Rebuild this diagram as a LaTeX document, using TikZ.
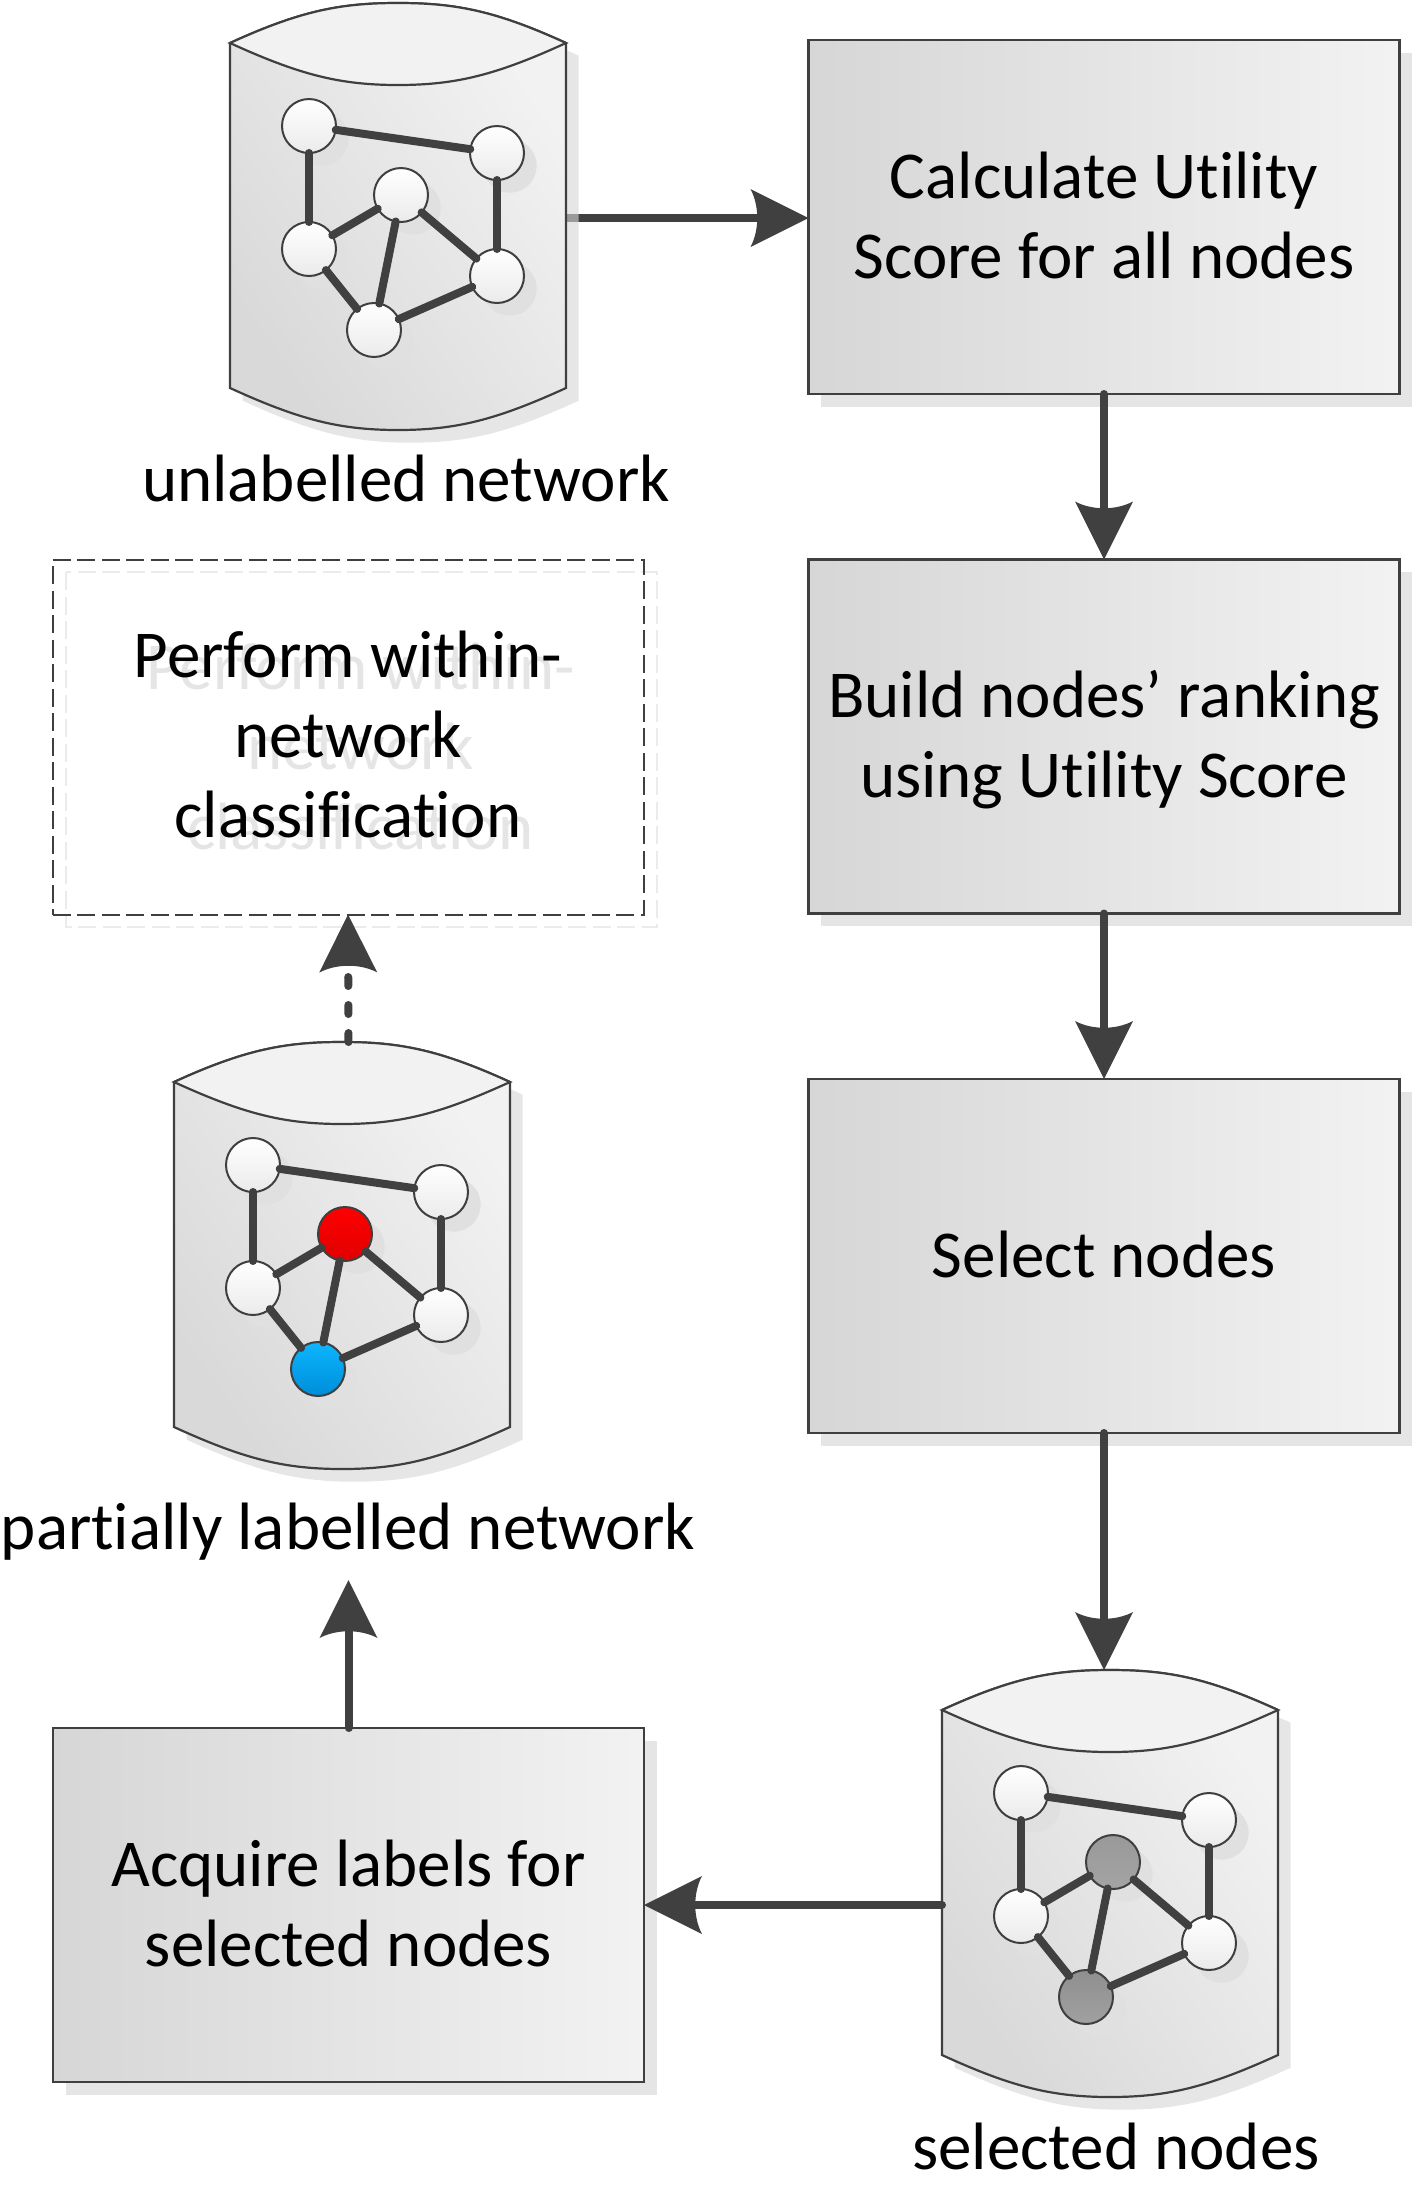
\documentclass[tikz,border=0pt]{standalone}
\usepackage{fontspec}
\setmainfont[Ligatures=NoCommon]{Carlito}
\usetikzlibrary{arrows.meta,calc}
\pgfdeclarelayer{links}
\pgfsetlayers{links,main}
\definecolor{ink}{HTML}{404040}
\definecolor{edgeline}{HTML}{3F3F3F}
\definecolor{castshade}{HTML}{D6D6D6}
% arrow head with swept-back barbs and a curved rear edge
\pgfdeclarearrow{
  name=BarbHead,
  setup code={
    \pgfarrowssettipend{0pt}
    \pgfarrowssetbackend{-58pt}
    \pgfarrowssetvisualbackend{-52pt}
    \pgfarrowssetlineend{-47pt}
    \pgfarrowshullpoint{0pt}{0pt}
    \pgfarrowshullpoint{-58pt}{29pt}
    \pgfarrowshullpoint{-58pt}{-29pt}
  },
  drawing code={
    \pgfpathmoveto{\pgfqpoint{0pt}{0pt}}
    \pgfpathlineto{\pgfqpoint{-58pt}{29pt}}
    \pgfpathcurveto{\pgfqpoint{-49pt}{12pt}}{\pgfqpoint{-49pt}{-12pt}}{\pgfqpoint{-58pt}{-29pt}}
    \pgfpathclose
    \pgfusepathqfill
  }
}
\tikzset{
  x=1pt,y=-1pt,
  every node/.style={inner sep=0pt,outer sep=0pt},
  boxtext/.style={font=\fontsize{67}{80}\selectfont,align=center,text=black},
  caption/.style={font=\fontsize{67}{80}\selectfont,anchor=base,text=black},
  procbox/.style={rectangle,draw=edgeline,line width=2.4pt,minimum width=591pt,minimum height=354pt,
    left color=black!16,right color=black!5},
  dropshade/.style={fill=castshade,opacity=.6,draw=none},
  flow/.style={draw=ink,line width=8pt,line cap=round,-{BarbHead}},
  netlink/.style={draw=ink,line width=8pt,line cap=round},
  netvertex/.style={circle,draw=edgeline,line width=2pt,minimum size=54pt},
  plainvertex/.style={netvertex,top color=white,bottom color=black!8},
  cylbody/.style={draw=edgeline,line width=2.2pt,shading=axis,bottom color=black!15,top color=black!5,shading angle=-55},
  cyltop/.style={draw=edgeline,line width=2.2pt,fill=black!5},
}
% one cylinder holding a six-vertex network; #1 prefix, #2 #3 top-left corner of its extent,
% #4 #5 styles of the two vertices in the middle of the network
\newcommand{\netcylinder}[5]{%
  \begin{scope}[shift={(#2,#3)}]
    \path[dropshade,shift={(12.7,12.7)}] (0,40) .. controls (70,8) and (110,0) .. (168,0)
      .. controls (226,0) and (266,8) .. (336,40) -- (336,385)
      .. controls (266,417) and (226,427) .. (168,427)
      .. controls (110,427) and (70,417) .. (0,385) -- cycle;
    \path[cylbody] (0,40) .. controls (70,8) and (110,0) .. (168,0)
      .. controls (226,0) and (266,8) .. (336,40) -- (336,385)
      .. controls (266,417) and (226,427) .. (168,427)
      .. controls (110,427) and (70,417) .. (0,385) -- cycle;
    \path[cyltop] (0,40) .. controls (70,8) and (110,0) .. (168,0)
      .. controls (226,0) and (266,8) .. (336,40)
      .. controls (266,72) and (226,82) .. (168,82)
      .. controls (110,82) and (70,72) .. (0,40) -- cycle;
    \foreach \sx/\sy in {79/123,267/150,171/192,79/246,267/273,144/327}
      \fill[black!12] (\sx+12.7,\sy+12.7) circle[radius=27pt];
    \node[plainvertex] (#1a) at (79,123) {};
    \node[plainvertex] (#1b) at (267,150) {};
    \node[#4] (#1c) at (171,192) {};
    \node[plainvertex] (#1d) at (79,246) {};
    \node[plainvertex] (#1e) at (267,273) {};
    \node[#5] (#1f) at (144,327) {};
    \draw[netlink] (#1a) -- (#1b);
    \draw[netlink] (#1a) -- (#1d);
    \draw[netlink] (#1b) -- (#1e);
    \draw[netlink] (#1d) -- (#1c);
    \draw[netlink] (#1c) -- (#1e);
    \draw[netlink] (#1c) -- (#1f);
    \draw[netlink] (#1d) -- (#1f);
    \draw[netlink] (#1f) -- (#1e);
  \end{scope}}
\begin{document}
\begin{tikzpicture}
\useasboundingbox (0,0) rectangle (1413,2188);

% process boxes with their cast shade
\foreach \bx/\by in {808.5/40,808.5/559.5,808.5/1079,53/1728}
  \fill[black!10] (\bx+12.7,\by+12.7) rectangle ++(591,354);
\node[procbox] (score) at (1104,217) {};
\node[procbox] (rank) at (1104,736.5) {};
\node[procbox] (select) at (1104,1256) {};
\node[procbox] (acquire) at (348.5,1905) {};
\node[boxtext] (scoretext) at (1104,215.5) {Calculate Utility\\Score for all nodes};
\node[boxtext] (ranktext) at (1104,739.5) {Build nodes’ ranking\\using Utility Score};
\node[boxtext] (selecttext) at (1104,1254.5) {Select nodes};
\node[boxtext] (acquiretext) at (348.5,1903) {Acquire labels for\\selected nodes};

% optional final step, outlined only
\draw[black!8,line width=2pt,dash pattern=on 18pt off 6.5pt] (65.7,572.2) rectangle ++(591,355);
\node[boxtext,text=black!10] (classifyshade) at (360.7,746.7) {Perform within-\\network\\classification};
\node[draw=edgeline,line width=2pt,dash pattern=on 18pt off 6.5pt,minimum width=591pt,minimum height=355pt] (classify) at (348,737) {};
\node[boxtext] (classifytext) at (348,734) {Perform within-\\network\\classification};

% network cylinders
\netcylinder{u}{230}{3}{plainvertex}{plainvertex}
\netcylinder{p}{174}{1042}{netvertex,top color=red,bottom color=red!88!black}{netvertex,top color=cyan!70!blue!95!white,bottom color=cyan!65!blue!85!black}
\netcylinder{s}{942}{1670}{netvertex,top color=black!40,bottom color=black!36}{netvertex,top color=black!44,bottom color=black!37}

% connector ends on the cylinder outlines
\coordinate (uout) at (566,218);
\coordinate (pin) at (348.5,1580);
\coordinate (ptop) at (348.5,1042);
\coordinate (stop) at (1104,1670);
\coordinate (sout) at (942,1905);

% captions
\node[caption] (ucap) at (406,501) {unlabelled network};
\node[caption] (pcap) at (348,1549) {partially labelled network};
\node[caption] (scap) at (1116,2169) {selected nodes};

% connectors
\begin{pgfonlayer}{links}
\draw[flow] (uout) -- (uout -| score.west);
\end{pgfonlayer}
\draw[flow] (score.south) -- (rank.north);
\draw[flow] (rank.south) -- (select.north);
\draw[flow] (select.south) -- (stop);
\draw[flow] (sout) -- (acquire.east);
\draw[flow] (acquire.north) -- (pin);
\draw[flow,dash pattern=on 9pt off 19pt] (ptop) -- (classify.south);
\end{tikzpicture}
\end{document}
